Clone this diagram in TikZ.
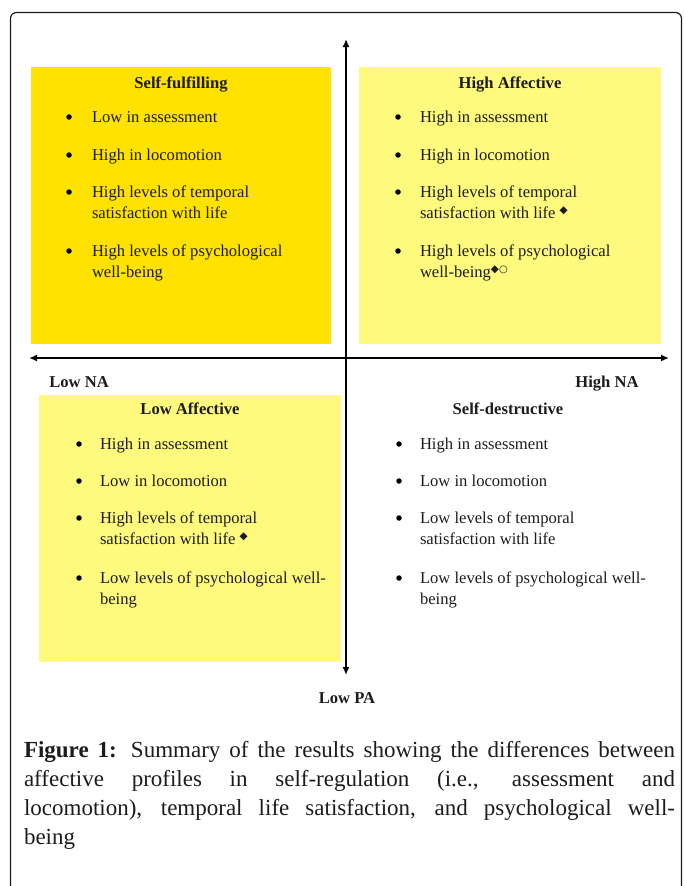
\documentclass[tikz,border=0pt]{standalone}
\usepackage{fontspec}
\setmainfont{Liberation Serif}
\newfontfamily\symfont{DejaVu Sans}
\usetikzlibrary{arrows.meta}
\definecolor{gold}{RGB}{255,226,0}
\definecolor{lightyel}{RGB}{255,250,125}
\definecolor{ink}{RGB}{28,28,28}
\newcommand\dmd{\raisebox{4.5pt}{\symfont\fontsize{10.5}{10.5}\selectfont ◆}}
\newcommand\rng{\raisebox{4.5pt}{\symfont\bfseries\fontsize{10}{10}\selectfont ○}}
\begin{document}
\begin{tikzpicture}[x=1pt,y=-1pt,
  every node/.style={inner sep=0pt,outer sep=0pt,text=ink},
  bodyfont/.style={font=\fontsize{16.6}{21}\selectfont},
  txt/.style={bodyfont,anchor=base west},
  bul/.style={circle,fill=black,minimum size=5.5pt},
  head/.style={font=\fontsize{16.6}{21}\selectfont\bfseries,anchor=base},
  axlabel/.style={font=\fontsize{16.6}{21}\selectfont\bfseries,anchor=base},
  quadbox/.style={anchor=north west,minimum width=#1},
  axisline/.style={line width=1.8pt,draw=black,{Latex[length=8pt,width=7pt]}-{Latex[length=8pt,width=7pt]}}]
\useasboundingbox (0,0) rectangle (683,886);
\clip (0,0) rectangle (683,886);
% frame
\draw[line width=1.2pt,rounded corners=6pt,ink] (10.5,12.5) rectangle (681.5,920);
% quadrant boxes
\node[quadbox=300pt,minimum height=277pt,fill=gold] (sfbox) at (31,67) {};
\node[quadbox=302pt,minimum height=277pt,fill=lightyel] (habox) at (359,67) {};
\node[quadbox=302pt,minimum height=267pt,fill=lightyel] (labox) at (39,395) {};
% axes
\coordinate (top) at (346,39);
\coordinate (bottom) at (346,675);
\coordinate (left) at (29,358);
\coordinate (right) at (669,358);
\draw[axisline] (top) -- (bottom);
\draw[axisline] (left) -- (right);
\node[axlabel] (lowna) at (79,387) {Low NA};
\node[axlabel] (highna) at (607,387) {High NA};
\node[axlabel] (lowpa) at (347,703) {Low PA};
% Self-fulfilling
\node[head] (sfh) at (181,88) {Self-fulfilling};
\node[bul] (sfb1) at (69,117) {};
\node[txt] (sf1) at (92,122) {Low in assessment};
\node[bul] (sfb2) at (69,155) {};
\node[txt] (sf2) at (92,160) {High in locomotion};
\node[bul] (sfb3) at (69,192) {};
\node[txt] (sf3a) at (92,197) {High levels of temporal};
\node[txt] (sf3b) at (92,218) {satisfaction with life};
\node[bul] (sfb4) at (69,251) {};
\node[txt] (sf4a) at (92,256) {High levels of psychological};
\node[txt] (sf4b) at (92,277) {well-being};
% High Affective
\node[head] (hah) at (510,88) {High Affective};
\node[bul] (hab1) at (398,117) {};
\node[txt] (ha1) at (420,122) {High in assessment};
\node[bul] (hab2) at (398,155) {};
\node[txt] (ha2) at (420,160) {High in locomotion};
\node[bul] (hab3) at (398,192) {};
\node[txt] (ha3a) at (420,197) {High levels of temporal};
\node[txt] (ha3b) at (420,218) {satisfaction with life \dmd};
\node[bul] (hab4) at (398,251) {};
\node[txt] (ha4a) at (420,256) {High levels of psychological};
\node[txt] (ha4b) at (420,277) {well-being\dmd\rng};
% Low Affective
\node[head] (lah) at (190,414) {Low Affective};
\node[bul] (lab1) at (79,444) {};
\node[txt] (la1) at (100,449) {High in assessment};
\node[bul] (lab2) at (79,481) {};
\node[txt] (la2) at (100,486) {Low in locomotion};
\node[bul] (lab3) at (79,518) {};
\node[txt] (la3a) at (100,523) {High levels of temporal};
\node[txt] (la3b) at (100,544) {satisfaction with life \dmd};
\node[bul] (lab4) at (79,578) {};
\node[txt] (la4a) at (100,583) {Low levels of psychological well-};
\node[txt] (la4b) at (100,604) {being};
% Self-destructive
\node[head] (sdh) at (508,414) {Self-destructive};
\node[bul] (sdb1) at (399,444) {};
\node[txt] (sd1) at (420,449) {High in assessment};
\node[bul] (sdb2) at (399,481) {};
\node[txt] (sd2) at (420,486) {Low in locomotion};
\node[bul] (sdb3) at (399,518) {};
\node[txt] (sd3a) at (420,523) {Low levels of temporal};
\node[txt] (sd3b) at (420,544) {satisfaction with life};
\node[bul] (sdb4) at (399,578) {};
\node[txt] (sd4a) at (420,583) {Low levels of psychological well-};
\node[txt] (sd4b) at (420,604) {being};
% caption
\node[anchor=north west,text width=651pt,align=justify,font=\fontsize{23}{29}\selectfont] (cap) at (24,741)
{\textbf{Figure 1:} Summary of the results showing the differences between\linebreak affective profiles in self-regulation (i.e., assessment and\linebreak locomotion), temporal life satisfaction, and psychological well-\linebreak being};
\end{tikzpicture}
\end{document}
